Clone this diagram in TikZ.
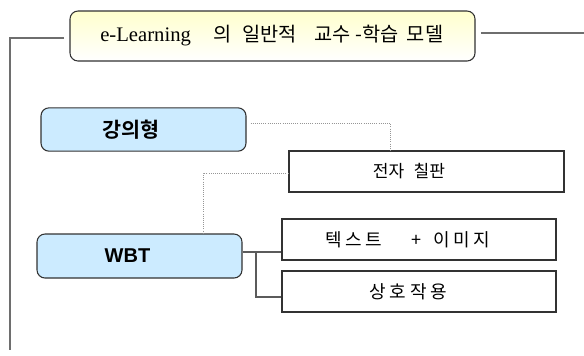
\documentclass[tikz,border=0pt]{standalone}
\usepackage{fontspec}
\setmainfont{Liberation Serif}
\newfontfamily\tms{Liberation Serif}
\newfontfamily\kr{Noto Sans CJK KR}
\newfontfamily\krb{Noto Sans CJK KR Bold}
\newfontfamily\ars{Liberation Sans}
\definecolor{boxblue}{RGB}{204,235,255}
\definecolor{titletop}{RGB}{255,255,205}
\definecolor{linegray}{RGB}{110,110,110}
\definecolor{dotgray}{RGB}{150,150,150}
\definecolor{edge}{RGB}{50,50,50}
\begin{document}
\begin{tikzpicture}[x=0.75pt,y=-0.75pt,
  titlebox/.style={draw=edge, line width=0.8pt, rounded corners=6pt, top color=titletop, bottom color=white,
    minimum width=303.75pt, minimum height=37.5pt, inner sep=0pt},
  bluebox/.style={draw=edge, line width=0.8pt, rounded corners=6pt, fill=boxblue,
    minimum width=153.75pt, minimum height=32.5pt, inner sep=0pt},
  plainbox/.style={draw=edge, line width=1pt, fill=white,
    minimum width=205.5pt, minimum height=30.75pt, inner sep=0pt},
  lbl/.style={inner sep=0pt, text=black},
  trunk/.style={draw=linegray, line width=1.4pt},
  branch/.style={draw=edge!80, line width=1pt},
  dotline/.style={draw=dotgray, line width=0.6pt, densely dotted}]
\useasboundingbox (0,0) rectangle (584,355);

% boxes
\node[titlebox] (title) at (272.5,36) {};
\node[lbl, anchor=west] (titletxt) at (100,36) {{\tms\fontsize{15.5pt}{17pt}\selectfont e-Learning}\hspace{17pt}{\kr\fontsize{14.8pt}{17pt}\selectfont 의\hspace{8pt}일반적\hspace{13pt}교수\hspace{4pt}-학습\hspace{6pt}모델}};

\node[bluebox] (lec) at (143.5,129.5) {};
\node[lbl] (lectxt) at (131,129.5) {\krb\fontsize{15.5pt}{17pt}\selectfont 강의형};

\node[plainbox, minimum width=206.25pt] (board) at (426.5,171.5) {};
\node[lbl] (boardtxt) at (409,171.5) {\kr\fontsize{12.8pt}{15pt}\selectfont 전자\hspace{7pt}칠판};

\node[bluebox, minimum height=33pt] (wbt) at (139.5,256) {};
\node[lbl] (wbttxt) at (127.5,256) {\ars\bfseries\fontsize{15pt}{17pt}\selectfont WBT};

\node[plainbox] (txtimg) at (419,239.5) {};
\node[lbl] (txtimgtxt) at (408,239.5) {\kr\addfontfeature{LetterSpace=20}\fontsize{13.5pt}{15pt}\selectfont 텍스트\hspace{22pt}+\hspace{9pt}이미지};

\node[plainbox] (inter) at (419,291.5) {};
\node[lbl] (intertxt) at (408.5,291.5) {\kr\addfontfeature{LetterSpace=22}\fontsize{13.5pt}{15pt}\selectfont 상호작용};

% coordinates
\coordinate (tl) at (10,38);
\coordinate (tb) at (10,350);
\coordinate (tr) at (584,33);
\coordinate (d1) at (390,123);
\coordinate (d2) at (203,173);
\coordinate (br) at (256,252);
\coordinate (bb) at (256,297);

% connectors
\draw[trunk] ([xshift=-4pt]title.west |- tl) -- (tl) -- (tb);
\draw[trunk] ([xshift=4pt]title.east |- tr) -- (tr);
\draw[dotline] ([xshift=3pt]lec.east |- d1) -- (d1) -- (d1 |- board.north);
\draw[dotline] (board.west |- d2) -- (d2) -- (d2 |- wbt.north);
\draw[branch] (wbt.east |- br) -- (txtimg.west |- br);
\draw[branch] (br) -- (bb) -- (inter.west |- bb);
\end{tikzpicture}
\end{document}
